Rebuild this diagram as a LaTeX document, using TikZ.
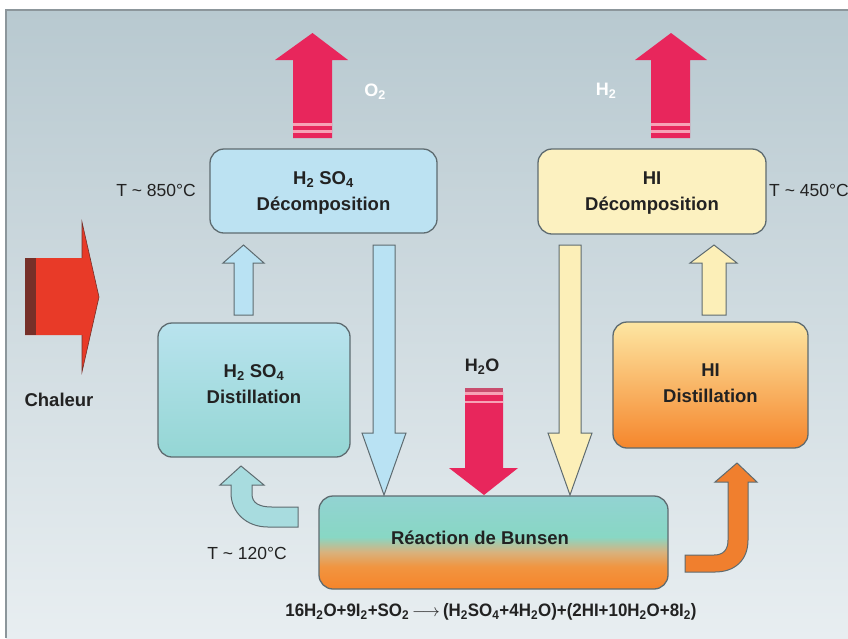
\documentclass[tikz,border=0pt]{standalone}
\usepackage{fontspec}
\setmainfont{Liberation Sans}
\newfontfamily\eqfont[FakeStretch=0.94]{Liberation Sans}
\definecolor{bgTop}{HTML}{B8C9D0}
\definecolor{bgBot}{HTML}{E8EEF1}
\definecolor{frameline}{HTML}{8C969B}
\definecolor{boxline}{HTML}{5E6B70}
\definecolor{decblue}{HTML}{BCE2F2}
\definecolor{decyel}{HTML}{FCF1C0}
\definecolor{distTop}{HTML}{B9E3EE}
\definecolor{distBot}{HTML}{94D6D4}
\definecolor{hiTop}{HTML}{FDE6A2}
\definecolor{hiMid}{HTML}{FBBE74}
\definecolor{hiBot}{HTML}{F5862C}
\definecolor{bunO}{HTML}{F6842A}
\definecolor{bunO2}{HTML}{F19540}
\definecolor{bunM}{HTML}{D8B27E}
\definecolor{bunT2}{HTML}{88D7C4}
\definecolor{bunT}{HTML}{92D3D2}
\definecolor{pinkA}{HTML}{E8265C}
\definecolor{pinkL}{HTML}{F7A2B6}
\definecolor{pinkD}{HTML}{C94D6E}
\definecolor{arrBlue}{HTML}{B9E2F3}
\definecolor{arrYel}{HTML}{FCEFB8}
\definecolor{arrTeal}{HTML}{A8DCDF}
\definecolor{arrOr}{HTML}{F07F2E}
\definecolor{heatRed}{HTML}{E83A28}
\definecolor{heatDark}{HTML}{763029}
\definecolor{txt}{HTML}{222222}
\pgfdeclareverticalshading{bunsenshade}{100bp}{color(0bp)=(bunO); color(25bp)=(bunO); color(37bp)=(bunO2); color(45bp)=(bunM); color(53bp)=(bunT2); color(75bp)=(bunT); color(100bp)=(bunT)}
\tikzset{
  box/.style={draw=boxline, line width=1.3pt, rounded corners=14pt, inner sep=0pt},
  lbl/.style={text=txt, font=\fontsize{18.5}{26}\selectfont\bfseries, align=center, inner sep=0pt},
  temp/.style={text=txt, font=\fontsize{17.5}{20}\selectfont, inner sep=0pt},
  gas/.style={text=white, font=\fontsize{18}{20}\selectfont\bfseries, inner sep=0pt},
  blockarrow/.style={draw=boxline, line width=1pt, line join=miter},
  pinkarrow/.style={fill=pinkA, draw=none},
  stripe/.style={fill=pinkL, draw=none}
}
\begin{document}
\begin{tikzpicture}[x=1pt,y=-1pt]
\useasboundingbox (0,0) rectangle (848,638);
\fill[white] (0,0) rectangle (848,638);
\shade[top color=bgTop, bottom color=bgBot] (6,10) rectangle (848,638);
\draw[frameline, line width=1.2pt] (6,638) -- (6,10) -- (848,10);

% boxes
\node[box, fill=decblue, minimum width=227pt, minimum height=84pt] (dec1) at (323.5,191) {};
\node[box, fill=decyel, minimum width=228pt, minimum height=85pt] (dec2) at (652,191.5) {};
\node[box, top color=distTop, bottom color=distBot, minimum width=192pt, minimum height=134pt] (dist1) at (254,390) {};
\node[box, top color=hiTop, middle color=hiMid, bottom color=hiBot, minimum width=195pt, minimum height=126pt] (dist2) at (710.5,385) {};
\node[box, shading=bunsenshade, minimum width=349pt, minimum height=93pt] (bunsen) at (493.5,542.5) {};

% box texts
\node[lbl] (dec1t) at (323.5,193) {H\textsubscript{2} SO\textsubscript{4}\\Décomposition};
\node[lbl] (dec2t) at (652,193.5) {HI\\Décomposition};
\node[lbl] (dist1t) at (254,384) {H\textsubscript{2} SO\textsubscript{4}\\Distillation};
\node[lbl] (dist2t) at (710.5,383.5) {HI\\Distillation};
\node[lbl] (bunsent) at (480,538) {Réaction de Bunsen};

% temperatures and labels
\node[temp] (t850) at (156,190) {T \textasciitilde\ 850°C};
\node[temp, anchor=west] (t450) at (769,190) {T \textasciitilde\ 450°C};
\node[temp] (t120) at (247,553) {T \textasciitilde\ 120°C};
\node[lbl] (chal) at (59,400) {Chaleur};
\node[lbl, font=\fontsize{18}{20}\selectfont\bfseries] (h2o) at (482,367) {H\textsubscript{2}O};
\node[gas] (o2) at (375,92) {O\textsubscript{2}};
\node[gas] (h2) at (606,91) {H\textsubscript{2}};
\node[text=txt, inner sep=0pt] (eq) at (491,612) {\eqfont\bfseries\fontsize{18}{20}\selectfont 16H\textsubscript{2}O+9I\textsubscript{2}+SO\textsubscript{2}\,$\longrightarrow$\,(H\textsubscript{2}SO\textsubscript{4}+4H\textsubscript{2}O)+(2HI+10H\textsubscript{2}O+8I\textsubscript{2})};

% O2 and H2 outgoing arrows
\fill[pinkarrow] (293,138) -- (293,60) -- (275,60) -- (312.5,33) -- (348,60) -- (332,60) -- (332,138) -- cycle;
\fill[stripe] (293,123) rectangle (332,126);
\fill[stripe] (293,130) rectangle (332,132.5);
\fill[pinkarrow] (651,138) -- (651,60) -- (635,60) -- (671,33) -- (707,60) -- (690,60) -- (690,138) -- cycle;
\fill[stripe] (651,123) rectangle (690,126);
\fill[stripe] (651,130) rectangle (690,132.5);

% H2O incoming arrow
\fill[pinkD] (465,388) rectangle (503,392);
\fill[pinkarrow] (465,392) -- (465,468) -- (449,468) -- (484,495) -- (518,468) -- (503,468) -- (503,392) -- cycle;
\fill[stripe] (465,392) rectangle (503,394.5);
\fill[stripe] (465,401) rectangle (503,403);

% long down arrows to Bunsen
\filldraw[blockarrow, fill=arrBlue] (373,245) -- (395,245) -- (395,433) -- (406,433) -- (384,495) -- (362,433) -- (373,433) -- cycle;
\filldraw[blockarrow, fill=arrYel] (559,245) -- (581,245) -- (581,433) -- (592,433) -- (570,495) -- (548,433) -- (559,433) -- cycle;

% small up arrows
\filldraw[blockarrow, fill=arrBlue] (234,315) -- (234,263) -- (223,263) -- (243.5,245) -- (264,263) -- (253,263) -- (253,315) -- cycle;
\filldraw[blockarrow, fill=arrYel] (702,315) -- (702,263) -- (690,263) -- (714,245) -- (737,263) -- (726,263) -- (726,315) -- cycle;

% curved arrows
\filldraw[blockarrow, fill=arrTeal] (231,485) -- (220,485) -- (241,466) -- (264,485) -- (252,485) -- (252,494)
  .. controls (252,503) and (259,507) .. (272,507) -- (298,507) -- (298,527) -- (268,527)
  .. controls (246,527) and (231,512) .. (231,493) -- cycle;
\filldraw[blockarrow, fill=arrOr] (728,482) -- (715,482) -- (737,463) -- (757,482) -- (748,482) -- (748,540)
  .. controls (748,560) and (735,572) .. (715,572) -- (685,572) -- (685,555) -- (714,555)
  .. controls (724,555) and (728,549) .. (728,540) -- cycle;

% heat arrow
\fill[heatRed] (25,258) -- (82,258) -- (82,222) -- (99,297) -- (82,372) -- (82,335) -- (25,335) -- cycle;
\fill[heatDark] (25,258) rectangle (36,335);
\draw[heatDark, line width=0.6pt] (82,258) -- (82,222) -- (99,297) -- (82,372) -- (82,335);
\end{tikzpicture}
\end{document}
